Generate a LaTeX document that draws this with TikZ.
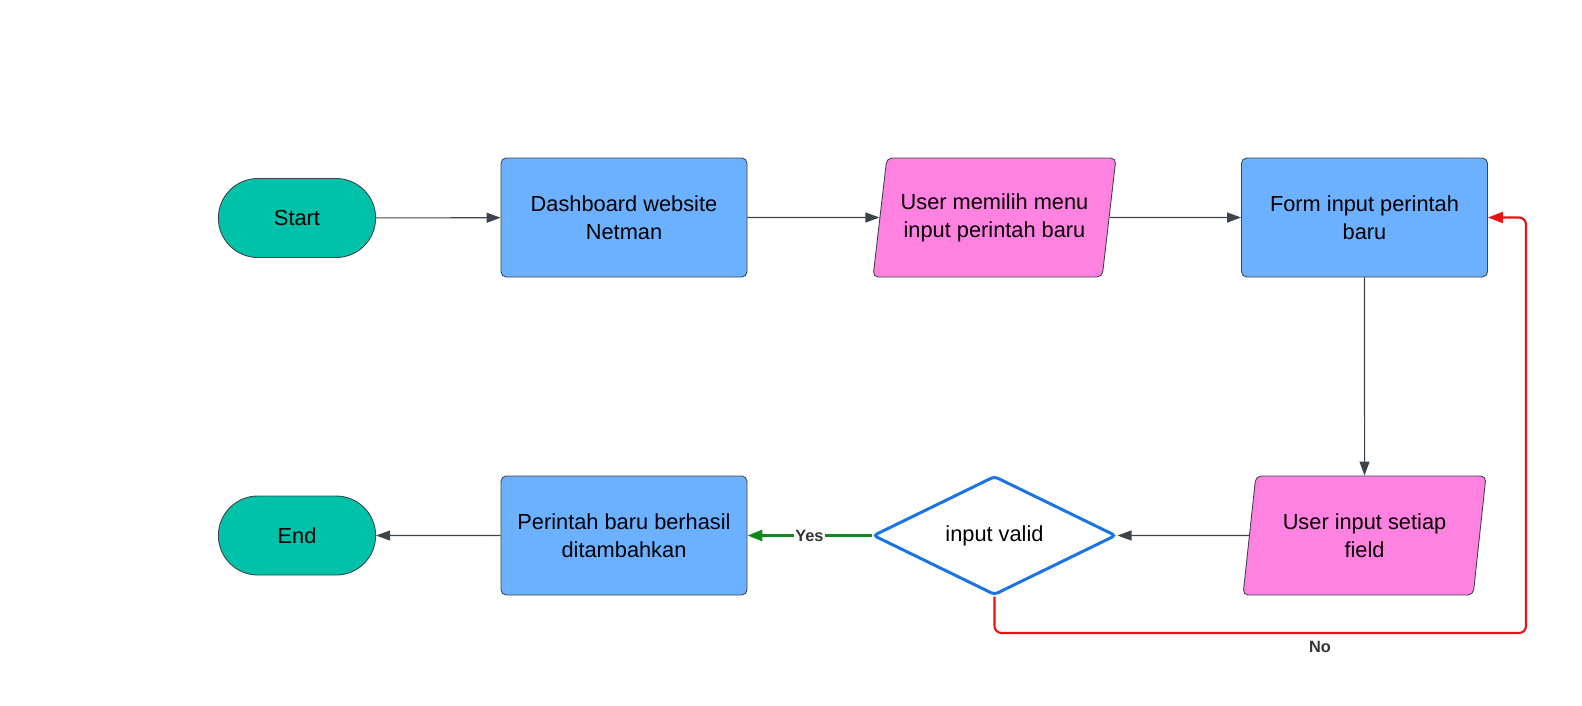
\documentclass[tikz,border=0pt]{standalone}
\usepackage{fontspec}
\setmainfont{Liberation Sans}
\usetikzlibrary{positioning}
\usetikzlibrary{shapes.geometric}
\usetikzlibrary{shapes.misc}
\usetikzlibrary{arrows.meta}
\definecolor{termcol}{HTML}{00C2A8}
\definecolor{boxcol}{HTML}{6CB1FF}
\definecolor{iocol}{HTML}{FF82E0}
\definecolor{edgecol}{HTML}{3D434B}
\definecolor{diacol}{HTML}{1B74E4}
\definecolor{yescol}{HTML}{0F8A1A}
\definecolor{nocol}{HTML}{E81414}
\definecolor{lblcol}{HTML}{333333}
\tikzset{
	every node/.style = {font=\fontsize{12.4}{15.9}\selectfont, align=center, text=black},
	terminal/.style = {rounded rectangle, draw=edgecol, line width=0.5pt, fill=termcol, minimum width=3.38cm, minimum height=1.58cm},
	process/.style = {rectangle, rounded corners=3pt, draw=edgecol, line width=0.5pt, fill=boxcol, minimum width=4.92cm, minimum height=2.38cm},
	io/.style = {trapezium, trapezium left angle=77, trapezium right angle=103, trapezium stretches body, rounded corners=3pt, inner xsep=0pt, draw=edgecol, line width=0.5pt, fill=iocol, minimum width=4.86cm, minimum height=2.38cm},
	decision/.style = {diamond, rounded corners=2pt, aspect=2, inner sep=0pt, draw=diacol, line width=1.7pt, fill=white, minimum width=4.86cm, minimum height=2.38cm},
	flow/.style = {-{Triangle[length=0.28cm, width=0.2cm]}, draw=edgecol, line width=0.6pt},
	yesflow/.style = {-{Triangle[length=0.3cm, width=0.22cm]}, draw=yescol, line width=1.7pt},
	noflow/.style = {-{Triangle[length=0.3cm, width=0.22cm]}, draw=nocol, line width=1.2pt, rounded corners=4pt},
	lbl/.style = {font=\fontsize{9.3}{11}\selectfont\bfseries, text=lblcol, inner sep=1pt}
}
\begin{document}
\begin{tikzpicture}
	\useasboundingbox (0,0) rectangle (31.64,-14.1);
	% top row
	\node[terminal] (start) at (5.94,-4.36) {Start};
	\node[process] (dash) at (12.48,-4.35) {Dashboard website\\Netman};
	\node[io] (memilih) at (19.89,-4.35) {User memilih menu\\input perintah baru};
	\node[process] (form) at (27.29,-4.35) {Form input perintah\\baru};
	% bottom row
	\node[io] (field) at (27.29,-10.71) {User input setiap\\field};
	\node[decision] (valid) at (19.89,-10.71) {input valid};
	\node[process] (done) at (12.48,-10.71) {Perintah baru berhasil\\ditambahkan};
	\node[terminal] (end) at (5.94,-10.71) {End};
	\coordinate (noturn) at (30.52,-12.66);
	\node[lbl] (nolbl) at (26.4,-12.94) {No};
	% connectors
	\draw[flow] (start) -- (dash);
	\draw[flow] (dash) -- (memilih);
	\draw[flow] (memilih) -- (form);
	\draw[flow] (form) -- (field);
	\draw[flow] (field) -- (valid);
	\draw[yesflow] (valid) -- node[lbl, fill=white, pos=0.5] {Yes} (done);
	\draw[flow] (done) -- (end);
	\draw[noflow] (valid.south) |- (noturn) |- (form.east);
\end{tikzpicture}
\end{document}
